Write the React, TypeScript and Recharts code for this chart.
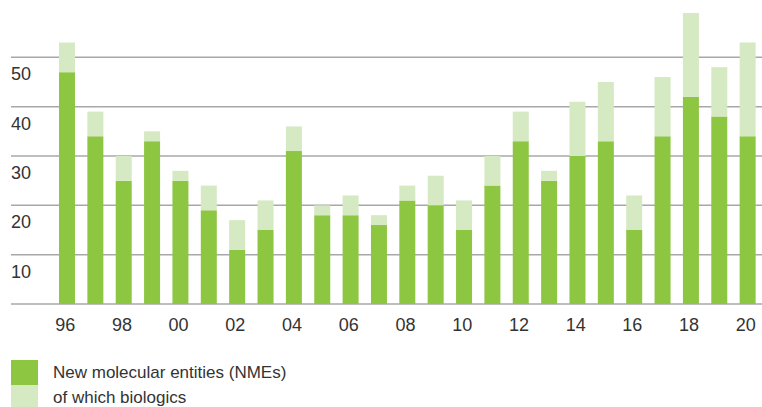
import React from 'react';
import { BarChart, Bar, XAxis, YAxis, CartesianGrid } from 'recharts';

const years = ['96','97','98','99','00','01','02','03','04','05','06','07','08','09','10','11','12','13','14','15','16','17','18','19','20'];
const nmes = [47,34,25,33,25,19,11,15,31,18,18,16,21,20,15,24,33,25,30,33,15,34,42,38,34];
const biologics = [6,5,5,2,2,5,6,6,5,2,4,2,3,6,6,6,6,2,11,12,7,12,17,10,19];
const yTicks = [0,10,20,30,40,50];
const xTickLabels = ['96','98','00','02','04','06','08','10','12','14','16','18','20'];
const legendItems = ['New molecular entities (NMEs)', 'of which biologics'];

const DARK = '#8dc641';
const LIGHT = '#d5e9c3';
const FONT = '"Liberation Sans", Arial, sans-serif';

const data = years.map((y, i) => ({ year: y, nme: nmes[i], bio: biologics[i] }));

const YTick = (props: any) => {
  const { y, payload } = props;
  if (payload.value === 0) return null;
  return (
    <text x={11} y={y + 23} fontSize={18} fill="#333" fontFamily={FONT} textAnchor="start">
      {payload.value}
    </text>
  );
};

const XTick = (props: any) => {
  const { x, y, payload } = props;
  if (!xTickLabels.includes(payload.value)) return null;
  return (
    <text x={x - 2} y={y + 25} fontSize={18} fill="#333" fontFamily={FONT} textAnchor="middle">
      {payload.value}
    </text>
  );
};

const legendColors = [DARK, LIGHT];

export default function App() {
  return (
    <div style={{ position: 'absolute', left: 0, top: 0, width: 762, height: 407, background: '#fff', overflow: 'hidden' }}>
      <BarChart width={762} height={407} data={data} margin={{ top: 8, right: 0, left: 11, bottom: 0 }} barCategoryGap={0}>
        <CartesianGrid vertical={false} stroke="#a8a8a8" strokeWidth={1.5} horizontalValues={yTicks} />
        <XAxis
          dataKey="year"
          height={103}
          padding={{ left: 42, right: 0 }}
          axisLine={false}
          tickLine={false}
          interval={0}
          tick={<XTick />}
          tickSize={0}
        />
        <YAxis
          width={42}
          mirror
          domain={[0, 60]}
          ticks={yTicks}
          interval={0}
          axisLine={false}
          tickLine={false}
          tickSize={0}
          tickMargin={0}
          tick={<YTick />}
        />
        <Bar dataKey="nme" stackId="a" fill={DARK} barSize={16} isAnimationActive={false} />
        <Bar dataKey="bio" stackId="a" fill={LIGHT} barSize={16} isAnimationActive={false} />
      </BarChart>
      <div style={{ position: 'absolute', left: 11, top: 360, fontFamily: FONT, fontSize: 17, color: '#333' }}>
        {legendItems.map((t, i) => (
          <div key={t} style={{ display: 'flex', alignItems: 'center', height: 25 }}>
            <div style={{ width: 27, height: 25, background: legendColors[i], marginRight: 15 }} />
            <span>{t}</span>
          </div>
        ))}
      </div>
    </div>
  );
}
